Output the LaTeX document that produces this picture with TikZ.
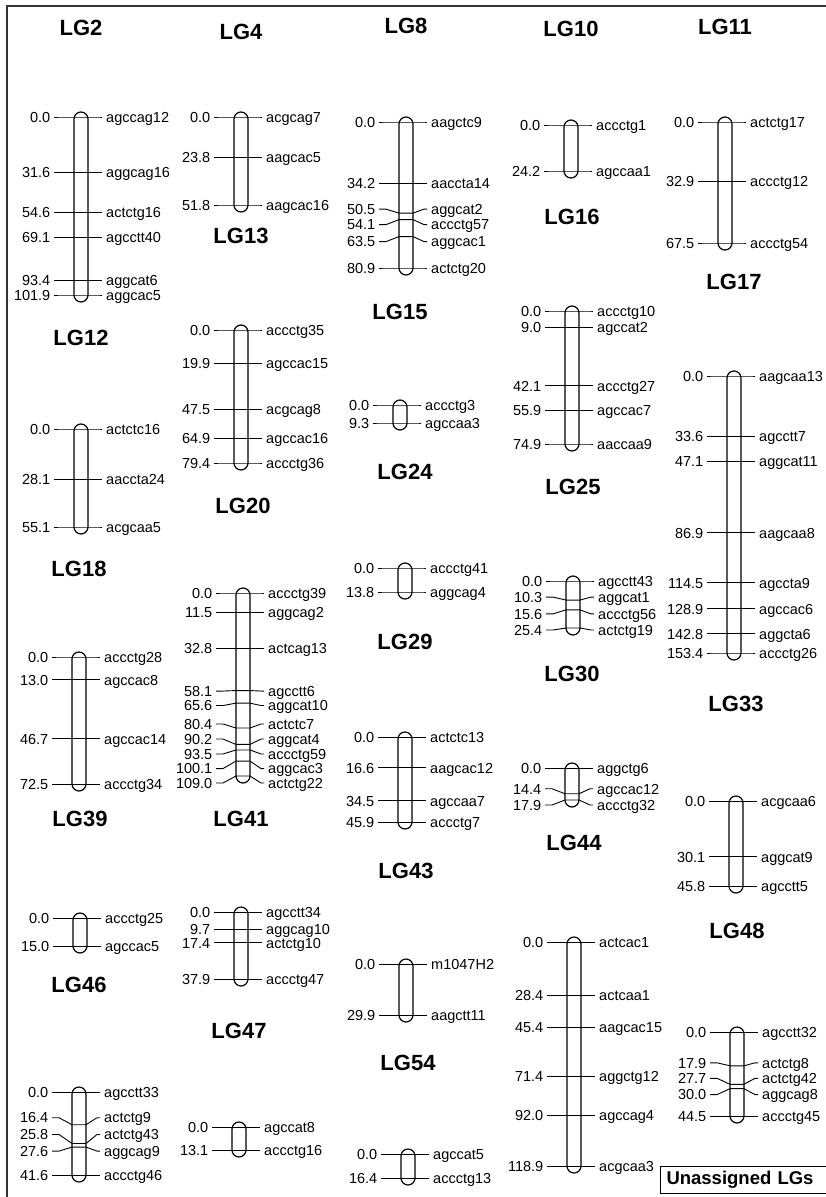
\documentclass[tikz,border=0pt]{standalone}
\usepackage{fontspec}
\setmainfont{Liberation Sans}
\usepackage{tikz}

\tikzset{
  lgtitle/.style={font=\fontsize{22}{25}\selectfont\bfseries, inner sep=0pt},
  cmtxt/.style={anchor=east, font=\fontsize{14.5}{17}\selectfont, inner xsep=3.5pt, inner ysep=0pt, text height=10.5pt, text depth=0pt},
  mktxt/.style={anchor=west, font=\fontsize{14.5}{17}\selectfont, inner xsep=4pt, inner ysep=0pt, text height=10.5pt, text depth=0pt},
  tickline/.style={line width=0.9pt},
  lgbar/.style={line width=1.2pt, rounded corners=7pt},
  frameline/.style={line width=1.4pt, black!80}
}

% #1 node name, #2 title, #3 bar x, #4 title y, #5 y of 0 cM, #6 y of last cM, #7 map length, #8 cM/marker/label shift
\newcommand{\linkgroup}[8]{%
  \node[lgtitle] (#1) at (#3,#4) {#2};
  \foreach \cmv/\mrk/\shf in {#8}{
    \pgfmathsetmacro{\tky}{#5+(\cmv)/(#7)*(#6-#5)}
    \pgfmathsetmacro{\lby}{\tky+\shf}
    \node[cmtxt] (d-\mrk) at (#3-27,\lby) {\cmv};
    \node[mktxt] (m-\mrk) at (#3+21,\lby) {\mrk};
    \draw[tickline] (d-\mrk.east) -- (#3-20,\lby) -- (#3-7,\tky) -- (#3+7,\tky) -- (#3+18,\lby) -- (m-\mrk.west);
  }
  \draw[lgbar] (#3-7,#5-5) rectangle (#3+7,#6+7);
}

\begin{document}
\begin{tikzpicture}[x=1pt,y=-1pt]
\useasboundingbox (0,0) rectangle (826,1197);
\draw[frameline] (7,1200) -- (7,6) -- (830,6);

% first column
\linkgroup{lg2}{LG2}{81}{28}{117}{295}{101.9}{0.0/agccag12/0, 31.6/aggcag16/0, 54.6/actctg16/0, 69.1/agcctt40/0, 93.4/aggcat6/0, 101.9/aggcac5/0}
\linkgroup{lg12}{LG12}{81}{338}{429}{527}{55.1}{0.0/actctc16/0, 28.1/aaccta24/0, 55.1/acgcaa5/0}
\linkgroup{lg18}{LG18}{79}{569}{657}{784}{72.5}{0.0/accctg28/0, 13.0/agccac8/0, 46.7/agccac14/0, 72.5/accctg34/0}
\linkgroup{lg39}{LG39}{80}{819}{918}{946}{15.0}{0.0/accctg25/0, 15.0/agccac5/0}
\linkgroup{lg46}{LG46}{79}{985}{1092}{1175}{41.6}{0.0/agcctt33/0, 16.4/actctg9/-7, 25.8/actctg43/-9, 27.6/aggcag9/4, 41.6/accctg46/0}

% second column
\linkgroup{lg4}{LG4}{241}{32}{117}{205}{51.8}{0.0/acgcag7/0, 23.8/aagcac5/0, 51.8/aagcac16/0}
\linkgroup{lg13}{LG13}{241}{236}{330}{463}{79.4}{0.0/accctg35/0, 19.9/agccac15/0, 47.5/acgcag8/0, 64.9/agccac16/0, 79.4/accctg36/0}
\linkgroup{lg20}{LG20}{243}{506}{593}{776}{109.0}{0.0/accctg39/0, 11.5/aggcag2/0, 32.8/actcag13/0, 58.1/agcctt6/0.5, 65.6/aggcat10/2.4, 80.4/actctc7/-4, 90.2/aggcat4/-5.4, 93.5/accctg59/4, 100.1/aggcac3/7.5, 109.0/actctg22/7}
\linkgroup{lg41}{LG41}{241}{819}{912}{979}{37.9}{0.0/agcctt34/0, 9.7/aggcag10/0, 17.4/actctg10/0, 37.9/accctg47/0}
\linkgroup{lg47}{LG47}{239}{1031}{1127}{1150}{13.1}{0.0/agccat8/0, 13.1/accctg16/0}

% third column
\linkgroup{lg8}{LG8}{406}{26}{122}{268}{80.9}{0.0/aagctc9/0, 34.2/aaccta14/0, 50.5/aggcat2/-4, 54.1/accctg57/5, 63.5/aggcac1/5, 80.9/actctg20/0}
\linkgroup{lg15}{LG15}{400}{312}{405}{423}{9.3}{0.0/accctg3/0, 9.3/agccaa3/0}
\linkgroup{lg24}{LG24}{405}{472}{568}{592}{13.8}{0.0/accctg41/0, 13.8/aggcag4/0}
\linkgroup{lg29}{LG29}{405}{642}{737}{822}{45.9}{0.0/actctc13/0, 16.6/aagcac12/0, 34.5/agccaa7/0, 45.9/accctg7/0}
\linkgroup{lg43}{LG43}{406}{871}{964}{1015}{29.9}{0.0/m1047H2/0, 29.9/aagctt11/0}
\linkgroup{lg54}{LG54}{408}{1063}{1154}{1178}{16.4}{0.0/agccat5/0, 16.4/accctg13/0}

% fourth column
\linkgroup{lg10}{LG10}{571}{29}{125}{171}{24.2}{0.0/accctg1/0, 24.2/agccaa1/0}
\linkgroup{lg16}{LG16}{572}{217}{311}{444}{74.9}{0.0/accctg10/0, 9.0/agccat2/0, 42.1/accctg27/0, 55.9/agccac7/0, 74.9/aaccaa9/0}
\linkgroup{lg25}{LG25}{573}{487}{581}{628}{25.4}{0.0/agcctt43/0, 10.3/aggcat1/-3, 15.6/accctg56/4, 25.4/actctg19/2}
\linkgroup{lg30}{LG30}{572}{674}{768}{800}{17.9}{0.0/aggctg6/0, 14.4/agccac12/-5, 17.9/accctg32/5}
\linkgroup{lg44}{LG44}{574}{843}{942}{1166}{118.9}{0.0/actcac1/0, 28.4/actcaa1/0, 45.4/aagcac15/0, 71.4/aggctg12/0, 92.0/agccag4/0, 118.9/acgcaa3/0}

% fifth column
\linkgroup{lg11}{LG11}{725}{27}{122}{243}{67.5}{0.0/actctg17/0, 32.9/accctg12/0, 67.5/accctg54/0}
\linkgroup{lg17}{LG17}{734}{282}{376}{653}{153.4}{0.0/aagcaa13/0, 33.6/agcctt7/0, 47.1/aggcat11/0, 86.9/aagcaa8/0, 114.5/agccta9/0, 128.9/agccac6/0, 142.8/aggcta6/0, 153.4/accctg26/0}
\linkgroup{lg33}{LG33}{736}{704}{801}{886}{45.8}{0.0/acgcaa6/0, 30.1/aggcat9/0, 45.8/agcctt5/0}
\linkgroup{lg48}{LG48}{737}{931}{1032}{1116}{44.5}{0.0/agcctt32/0, 17.9/actctg8/-3, 27.7/actctg42/-6, 30.0/aggcag8/6, 44.5/accctg45/0}

\node[draw, line width=1pt, anchor=west, text width=170pt, minimum height=27pt, inner xsep=6pt, font=\fontsize{18.5}{21}\selectfont\bfseries] (unassigned) at (660,1179.5) {Unassigned LGs};
\end{tikzpicture}
\end{document}
